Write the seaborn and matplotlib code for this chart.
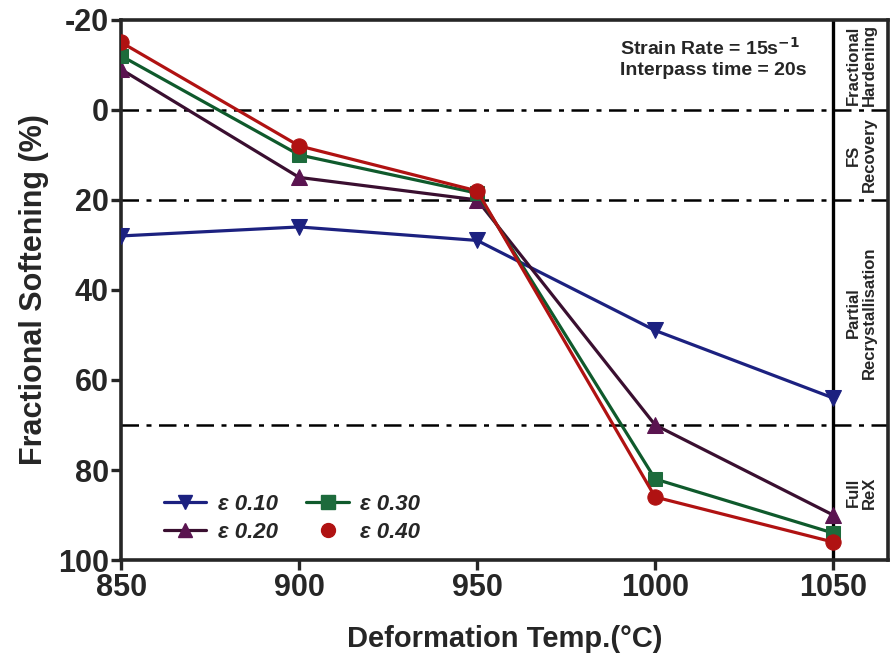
import numpy as np
import pandas as pd
import matplotlib
matplotlib.use("Agg")
import matplotlib.pyplot as plt
from matplotlib.lines import Line2D
import seaborn as sns

temps = [850, 900, 950, 1000, 1050]
fs_010 = [28, 26, 29, 49, 64]
fs_020 = [-9, 15, 20, 70, 90]
fs_030 = [-12, 10, 18.5, 82, 94]
fs_040 = [-15, 8, 18, 86, 96]
series_labels = ["ε 0.10", "ε 0.20", "ε 0.30", "ε 0.40"]
yticks = [-20, 0, 20, 40, 60, 80, 100]
xticks = [850, 900, 950, 1000, 1050]
boundaries = [0, 20, 70]
regions = [("Fractional\nHardening", -10), ("FS\nRecovery", 10),
           ("Partial\nRecrystallisation", 45), ("Full\nReX", 85)]

colors = {"ε 0.10": "#1c2180", "ε 0.20": "#5a1450", "ε 0.30": "#1d6b3c", "ε 0.40": "#b01212"}
line_colors = {"ε 0.10": "#1c2180", "ε 0.20": "#3a0f30", "ε 0.30": "#0f5a2c", "ε 0.40": "#b01212"}
markers = {"ε 0.10": "v", "ε 0.20": "^", "ε 0.30": "s", "ε 0.40": "o"}

rows = []
for lab, vals in zip(series_labels, [fs_010, fs_020, fs_030, fs_040]):
    for t, v in zip(temps, vals):
        rows.append({"temp": t, "fs": v, "strain": lab})
df = pd.DataFrame(rows)

sns.set_style("ticks")
FONT = ["Liberation Sans", "DejaVu Sans"]
plt.rcParams["font.family"] = FONT
plt.rcParams["axes.unicode_minus"] = False

fig = plt.figure(figsize=(8.91, 6.62), dpi=100)
ax = fig.add_axes([0.136, 0.154, 0.861, 0.816])

for lab in series_labels:
    sub = df[df.strain == lab]
    sns.lineplot(data=sub, x="temp", y="fs", ax=ax, color=line_colors[lab],
                 marker=markers[lab], markersize=11 if markers[lab] != "s" else 10,
                 markerfacecolor=colors[lab], markeredgecolor=colors[lab],
                 linewidth=2.3, legend=False, zorder=3)

for b in boundaries:
    ax.axhline(b, color="black", lw=1.8, ls=(0, (7, 3, 2, 3)), zorder=1)
ax.axvline(1050, color="black", lw=2.4, zorder=2)

ax.set_xlim(850, 1065.5)
ax.set_ylim(100, -20)
ax.set_xticks(xticks)
ax.set_yticks(yticks)
ax.tick_params(axis="both", direction="out", length=7, width=2.4, labelsize=22, pad=2)
for lbl in ax.get_xticklabels() + ax.get_yticklabels():
    lbl.set_fontweight("bold")
for s in ax.spines.values():
    s.set_linewidth(2.6)
    s.set_visible(True)

ax.set_xlabel("Deformation Temp.(°C)", fontsize=21, fontweight="bold", labelpad=16)
ax.set_ylabel("Fractional Softening (%)", fontsize=22, fontweight="bold", labelpad=6)

for txt, yc in regions:
    ax.text(1058, yc, txt, rotation=90, ha="center", va="center", fontsize=12,
            fontweight="bold", linespacing=1.05)

ax.text(0.65, 0.968, "Strain Rate = 15s$^{\\mathbf{-1}}$\nInterpass time = 20s",
        transform=ax.transAxes, ha="left", va="top", fontsize=14, fontweight="bold",
        linespacing=1.25)

handles = []
for lab in series_labels:
    ls = "none" if lab == "ε 0.40" else "-"
    handles.append(Line2D([], [], color=line_colors[lab], lw=2.3, ls=ls, marker=markers[lab],
                          markersize=10, markerfacecolor=colors[lab], markeredgecolor=colors[lab]))
leg = ax.legend(handles, series_labels, ncol=2, loc="lower left", bbox_to_anchor=(0.03, -0.005),
                frameon=False, handlelength=1.9, handletextpad=0.5, columnspacing=1.3,
                labelspacing=0.3,
                prop={"weight": "bold", "style": "italic", "size": 16, "family": FONT})

fig.savefig("out.png", dpi=100)
